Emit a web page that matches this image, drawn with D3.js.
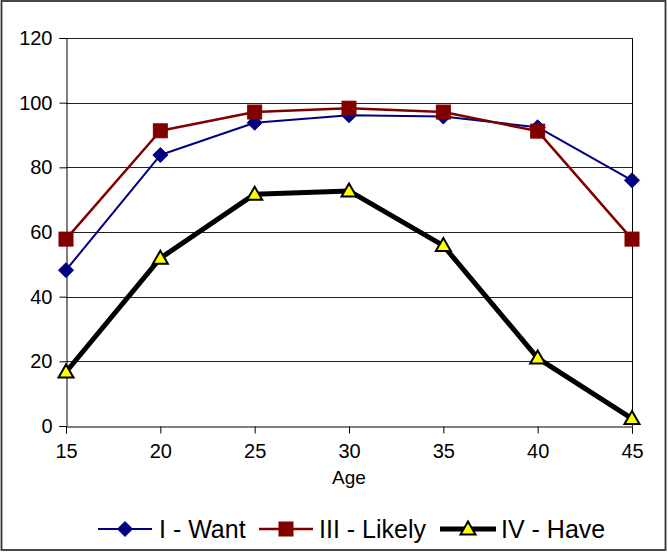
<!DOCTYPE html>
<html>
<head>
<meta charset="utf-8">
<script src="https://cdn.jsdelivr.net/npm/d3@7"></script>
<style>
  html, body { margin: 0; padding: 0; background: #fff; }
  svg { display: block; }
  text { font-family: "Liberation Sans", Arial, sans-serif; fill: #000; }
</style>
</head>
<body>
<svg id="chart" width="668" height="552"></svg>
<script>
const ages = [15, 20, 25, 30, 35, 40, 45];
const want = [48.2, 83.8, 93.8, 96.1, 95.7, 92.4, 76.0];
const likely = [57.8, 91.3, 97.1, 98.3, 97.1, 91.2, 57.8];
const have = [16.7, 51.9, 71.7, 72.7, 55.8, 21.0, 2.3];
const yTicks = [0, 20, 40, 60, 80, 100, 120];
const seriesNames = ["I - Want", "III - Likely", "IV - Have"];
const xTitle = "Age";

const svg = d3.select("#chart");
const W = 668, H = 552;
const m = { left: 66, right: 632, top: 38, bottom: 426 };

// outer border
svg.append("rect").attr("x", 1.5).attr("y", 1).attr("width", W - 4).attr("height", H - 3)
  .attr("fill", "#fff").attr("stroke", "#333").attr("stroke-width", 1.8);

const x = d3.scaleLinear().domain([15, 45]).range([m.left, m.right]);
const y = d3.scaleLinear().domain([0, 120]).range([m.bottom, m.top]);

// gridlines
svg.append("g").selectAll("line").data(yTicks.filter(d => d > 0)).join("line")
  .attr("x1", m.left).attr("x2", m.right)
  .attr("y1", d => Math.round(y(d)) + 0.5).attr("y2", d => Math.round(y(d)) + 0.5)
  .attr("stroke", "#222").attr("stroke-width", 1);

// right border of plot
svg.append("line").attr("x1", m.right + 0.5).attr("x2", m.right + 0.5)
  .attr("y1", m.top).attr("y2", m.bottom).attr("stroke", "#000");

// y axis
const yAxis = d3.axisLeft(y).tickValues(yTicks).tickSize(7).tickPadding(7);
const gy = svg.append("g").attr("transform", `translate(${m.left + 0.5},0)`).call(yAxis);
gy.select(".domain").attr("stroke", "#000");
gy.selectAll(".tick line").attr("stroke", "#000");
gy.selectAll(".tick text").attr("font-size", 20).attr("font-family", "Liberation Sans, Arial, sans-serif").attr("fill", "#000");

// x axis
const xAxis = d3.axisBottom(x).tickValues(ages).tickSize(7).tickPadding(10);
const gx = svg.append("g").attr("transform", `translate(0,${m.bottom + 0.5})`).call(xAxis);
gx.select(".domain").attr("stroke", "#000");
gx.selectAll(".tick line").attr("stroke", "#000");
gx.selectAll(".tick text").attr("font-size", 20).attr("font-family", "Liberation Sans, Arial, sans-serif").attr("fill", "#000");

svg.append("text").attr("x", (m.left + m.right) / 2).attr("y", 484)
  .attr("text-anchor", "middle").attr("font-size", 19).text(xTitle);

const line = d3.line().x((d, i) => x(ages[i])).y(d => y(d));

const series = [
  { name: seriesNames[0], data: want, color: "#000080", width: 2, shape: "diamond" },
  { name: seriesNames[1], data: likely, color: "#800000", width: 2.5, shape: "square" },
  { name: seriesNames[2], data: have, color: "#000000", width: 5, shape: "triangle" }
];

function drawMarker(g, shape, cx, cy) {
  if (shape === "diamond") {
    g.append("path").attr("d", `M${cx},${cy - 7.5}L${cx + 7.5},${cy}L${cx},${cy + 7.5}L${cx - 7.5},${cy}Z`)
      .attr("fill", "#000080").attr("stroke", "#000080").attr("stroke-width", 1);
  } else if (shape === "square") {
    g.append("rect").attr("x", cx - 7).attr("y", cy - 7).attr("width", 14).attr("height", 14)
      .attr("fill", "#800000").attr("stroke", "#800000").attr("stroke-width", 1);
  } else {
    g.append("path").attr("d", `M${cx},${cy - 7.5}L${cx + 7.5},${cy + 5.5}L${cx - 7.5},${cy + 5.5}Z`)
      .attr("fill", "#ffff00").attr("stroke", "#000").attr("stroke-width", 2).attr("stroke-linejoin", "miter");
  }
}

series.forEach(s => {
  svg.append("path").datum(s.data).attr("d", line)
    .attr("fill", "none").attr("stroke", s.color).attr("stroke-width", s.width)
    .attr("stroke-linejoin", "round");
});
series.forEach(s => {
  const g = svg.append("g");
  s.data.forEach((v, i) => drawMarker(g, s.shape, x(ages[i]), y(v)));
});

// legend
const legendY = 529;
const legendItems = [
  { x0: 98, x1: 152, tx: 159 },
  { x0: 259, x1: 313, tx: 319 },
  { x0: 440, x1: 496, tx: 501 }
];
series.forEach((s, i) => {
  const li = legendItems[i];
  const g = svg.append("g");
  g.append("line").attr("x1", li.x0).attr("x2", li.x1).attr("y1", legendY).attr("y2", legendY)
    .attr("stroke", s.color).attr("stroke-width", s.width);
  drawMarker(g, s.shape, (li.x0 + li.x1) / 2, legendY);
  g.append("text").attr("x", li.tx).attr("y", legendY + 9).attr("font-size", 25).text(s.name);
});
</script>
</body>
</html>
